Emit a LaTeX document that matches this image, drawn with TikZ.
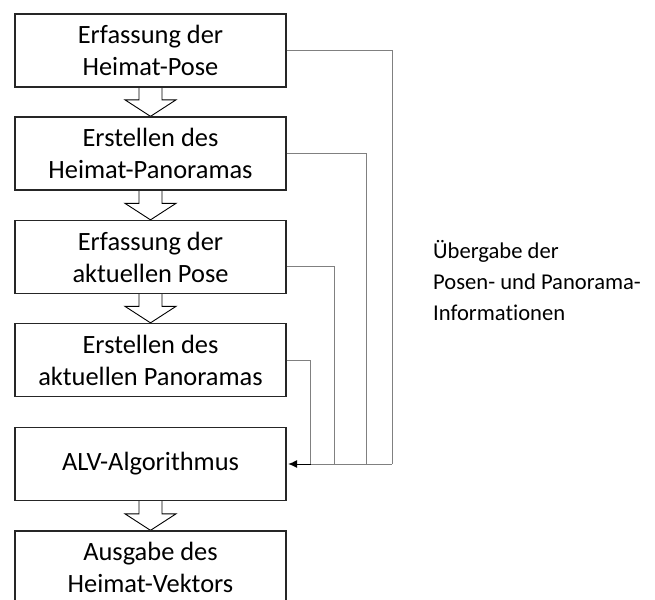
\documentclass[tikz,border=0pt]{standalone}
\usepackage{fontspec}
\setmainfont{Carlito}[Ligatures=NoCommon]
\usetikzlibrary{arrows.meta,calc,backgrounds}
\tikzset{
  stage/.style={draw=black!85, line width=1.3pt, fill=white,
    minimum width=271pt, minimum height=73pt, inner sep=0pt,
    align=center, font=\fontsize{26.4}{32}\selectfont},
  link/.style={draw=black!50, line width=0.9pt},
  feed/.style={draw=black, line width=1pt,
    -{Latex[length=9pt,width=8pt]}, shorten >=1.5pt},
  flow/.style={draw=black, line width=0.9pt, fill=white, line join=miter},
  note/.style={align=left, inner sep=0pt, anchor=west,
    font=\fontsize{22.6}{31}\selectfont},
}
% hollow block arrow from the bottom of one stage to the top of the next
\newcommand\flowarrow[2]{%
  \draw[flow] let \p1=(#1.south), \p2=(#2.north) in
    (\x1-11.5pt,\y1) -- (\x1-11.5pt,\y2+16.5pt) -- (\x1-25.5pt,\y2+16.5pt)
    -- (\x1,\y2) -- (\x1+25.5pt,\y2+16.5pt) -- (\x1+11.5pt,\y2+16.5pt)
    -- (\x1+11.5pt,\y1);}
\begin{document}
\begin{tikzpicture}[x=1pt,y=1pt]
  \useasboundingbox (0,0) rectangle (655,-599);
  \clip (0,0) rectangle (655,-599);

  % processing stages
  \node[stage] (b1) at (150.5,-50.5) {Erfassung der\\Heimat-Pose};
  \node[stage] (b2) at (150.5,-153.5) {Erstellen des\\Heimat-Panoramas};
  \node[stage] (b3) at (150.5,-257) {Erfassung der\\aktuellen Pose};
  \node[stage] (b4) at (150.5,-360) {Erstellen des\\aktuellen Panoramas};
  \node[stage] (b5) at (150.5,-464) {ALV-Algorithmus};
  \node[stage] (b6) at (150.5,-567.5) {Ausgabe des\\Heimat-Vektors};

  % block arrows between consecutive stages
  \begin{scope}[on background layer]
    \flowarrow{b1}{b2}
    \flowarrow{b2}{b3}
    \flowarrow{b3}{b4}
    \flowarrow{b5}{b6}
  \end{scope}

  % collecting lines into the ALV stage
  \coordinate (j1) at (392,-464);
  \coordinate (j2) at (366.7,-464);
  \coordinate (j3) at (334,-464);
  \coordinate (j4) at (310.7,-464);
  \draw[link] (b1.east) -| (j1);
  \draw[link] (b2.east) -| (j2);
  \draw[link] ([yshift=-9pt]b3.east) -| (j3);
  \draw[link] (b4.east) -| (j4);
  \draw[link] (j1) -- (j4);
  \draw[feed] (j4) -- (b5.east);

  \node[note] (info) at (433,-281)
    {Übergabe der\\Posen- und Panorama-\\Informationen};
\end{tikzpicture}
\end{document}
